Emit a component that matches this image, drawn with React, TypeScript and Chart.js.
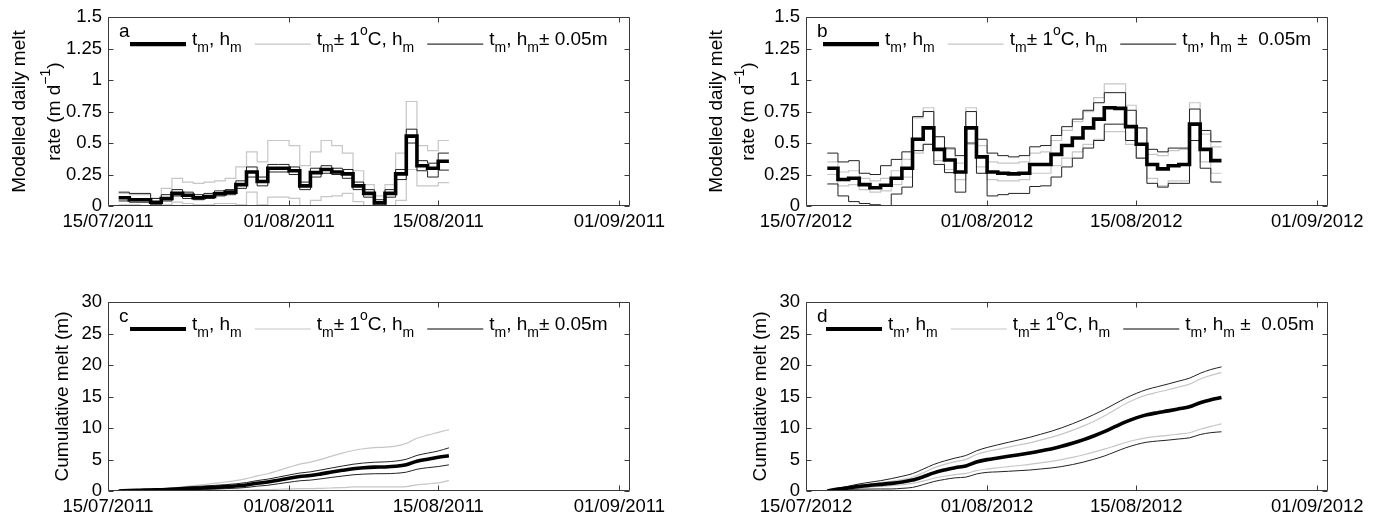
import React, { useEffect, useRef } from 'react';
import { Chart, registerables } from 'chart.js';

Chart.register(...registerables);

const FONT = '"Liberation Sans", Arial, Helvetica, sans-serif';

// x axis: days since 15/07
const xTickDays = [0, 17, 31, 48];
const xTickLabels2011 = ['15/07/2011', '01/08/2011', '15/08/2011', '01/09/2011'];
const xTickLabels2012 = ['15/07/2012', '01/08/2012', '15/08/2012', '01/09/2012'];

// ---- panel a: modelled daily melt rate 2011 (m d-1), one value per day starting 16/07 (day 1)
const rateStart2011 = 1;
const rate2011Main = [0.066, 0.05, 0.05, 0.03, 0.06, 0.10, 0.085, 0.066, 0.075, 0.097, 0.11, 0.17, 0.27, 0.195, 0.30, 0.30, 0.28, 0.16, 0.265, 0.29, 0.27, 0.255, 0.16, 0.10, 0.025, 0.10, 0.255, 0.555, 0.32, 0.30, 0.355];
const rate2011TempUp = [0.10, 0.09, 0.09, 0.06, 0.14, 0.22, 0.19, 0.18, 0.19, 0.20, 0.22, 0.31, 0.43, 0.35, 0.52, 0.52, 0.48, 0.32, 0.43, 0.52, 0.48, 0.42, 0.28, 0.17, 0.08, 0.17, 0.42, 0.83, 0.48, 0.44, 0.52];
const rate2011TempDown = [0.01, 0.01, 0.0, 0.0, 0.01, 0.03, 0.02, 0.01, 0.01, 0.02, 0.02, 0.01, 0.11, 0.01, 0.07, 0.07, 0.06, 0.0, 0.045, 0.075, 0.08, 0.10, 0.035, 0.0, 0.0, 0.0, 0.045, 0.29, 0.16, 0.16, 0.185];
const rate2011ThickUp = [0.11, 0.10, 0.10, 0.06, 0.09, 0.13, 0.11, 0.09, 0.10, 0.12, 0.13, 0.20, 0.31, 0.23, 0.33, 0.33, 0.31, 0.19, 0.30, 0.32, 0.30, 0.29, 0.19, 0.13, 0.05, 0.13, 0.29, 0.61, 0.36, 0.34, 0.42];
const rate2011ThickDown = [0.04, 0.03, 0.03, 0.01, 0.04, 0.08, 0.06, 0.05, 0.06, 0.08, 0.09, 0.14, 0.23, 0.16, 0.27, 0.27, 0.25, 0.13, 0.23, 0.26, 0.25, 0.22, 0.13, 0.07, 0.005, 0.07, 0.21, 0.50, 0.28, 0.23, 0.285];

// ---- panel b: modelled daily melt rate 2012, starting 17/07 (day 2)
const rateStart2012 = 2;
const rate2012Main = [0.30, 0.21, 0.22, 0.17, 0.145, 0.165, 0.22, 0.30, 0.53, 0.62, 0.45, 0.365, 0.27, 0.62, 0.39, 0.27, 0.26, 0.255, 0.26, 0.33, 0.33, 0.41, 0.48, 0.54, 0.62, 0.69, 0.78, 0.775, 0.63, 0.49, 0.33, 0.295, 0.32, 0.33, 0.65, 0.45, 0.36];
const rate2012TempUp = [0.35, 0.27, 0.28, 0.22, 0.20, 0.22, 0.28, 0.37, 0.70, 0.78, 0.55, 0.45, 0.34, 0.78, 0.48, 0.35, 0.34, 0.34, 0.35, 0.42, 0.43, 0.52, 0.60, 0.67, 0.75, 0.86, 0.97, 0.97, 0.80, 0.62, 0.41, 0.40, 0.44, 0.45, 0.82, 0.57, 0.47];
const rate2012TempDown = [0.25, 0.16, 0.17, 0.13, 0.11, 0.12, 0.17, 0.23, 0.42, 0.49, 0.36, 0.29, 0.21, 0.49, 0.31, 0.21, 0.20, 0.20, 0.21, 0.26, 0.26, 0.32, 0.38, 0.43, 0.49, 0.53, 0.59, 0.59, 0.49, 0.38, 0.22, 0.16, 0.20, 0.20, 0.52, 0.35, 0.26];
const rate2012ThickUp = [0.42, 0.35, 0.36, 0.26, 0.25, 0.32, 0.37, 0.43, 0.71, 0.75, 0.55, 0.46, 0.40, 0.75, 0.53, 0.42, 0.40, 0.39, 0.40, 0.47, 0.48, 0.56, 0.63, 0.69, 0.76, 0.82, 0.90, 0.90, 0.76, 0.62, 0.45, 0.43, 0.46, 0.46, 0.77, 0.60, 0.51];
const rate2012ThickDown = [0.175, 0.08, 0.035, 0.02, 0.01, 0.0, 0.095, 0.15, 0.44, 0.49, 0.33, 0.265, 0.11, 0.50, 0.26, 0.08, 0.09, 0.10, 0.10, 0.155, 0.16, 0.23, 0.31, 0.38, 0.46, 0.52, 0.65, 0.65, 0.52, 0.38, 0.18, 0.15, 0.18, 0.18, 0.52, 0.30, 0.19];

// ---- panel c: cumulative melt 2011 (m), one value per day from day 1
const cumStart2011 = 1;
const cum2011Main = [0, 0.07, 0.12, 0.17, 0.20, 0.26, 0.36, 0.44, 0.51, 0.58, 0.68, 0.79, 0.96, 1.23, 1.42, 1.72, 2.02, 2.30, 2.46, 2.72, 3.01, 3.28, 3.53, 3.69, 3.79, 3.82, 3.92, 4.17, 4.73, 5.05, 5.35, 5.60];
const cum2011TempUp = [0, 0.09, 0.17, 0.25, 0.30, 0.44, 0.66, 0.85, 1.03, 1.22, 1.43, 1.65, 1.96, 2.39, 2.74, 3.26, 3.78, 4.26, 4.58, 5.01, 5.53, 6.01, 6.43, 6.71, 6.88, 6.96, 7.13, 7.55, 8.38, 8.86, 9.30, 9.75];
const cum2011TempDown = [0, 0.01, 0.02, 0.02, 0.02, 0.03, 0.05, 0.07, 0.08, 0.09, 0.11, 0.13, 0.14, 0.22, 0.23, 0.28, 0.33, 0.38, 0.38, 0.42, 0.48, 0.55, 0.64, 0.67, 0.67, 0.67, 0.67, 0.71, 0.98, 1.14, 1.30, 1.65];
const cum2011ThickUp = [0, 0.11, 0.21, 0.31, 0.37, 0.46, 0.59, 0.70, 0.79, 0.89, 1.01, 1.14, 1.34, 1.65, 1.88, 2.21, 2.54, 2.85, 3.04, 3.34, 3.66, 3.96, 4.25, 4.44, 4.57, 4.62, 4.75, 5.04, 5.65, 6.01, 6.35, 6.85];
const cum2011ThickDown = [0, 0.03, 0.05, 0.07, 0.08, 0.11, 0.17, 0.22, 0.26, 0.31, 0.37, 0.44, 0.56, 0.77, 0.91, 1.15, 1.39, 1.62, 1.73, 1.93, 2.16, 2.37, 2.57, 2.68, 2.74, 2.75, 2.81, 2.99, 3.45, 3.70, 3.88, 4.15];

// ---- panel d: cumulative melt 2012 (m), one value per day from day 2
const cumStart2012 = 2;
const cum2012Main = [0, 0.30, 0.51, 0.73, 0.90, 1.05, 1.21, 1.43, 1.73, 2.26, 2.88, 3.33, 3.70, 3.97, 4.59, 4.98, 5.25, 5.51, 5.76, 6.02, 6.35, 6.68, 7.09, 7.57, 8.11, 8.73, 9.42, 10.20, 10.98, 11.61, 12.10, 12.43, 12.72, 13.04, 13.37, 14.02, 14.47, 14.83];
const cum2012TempUp = [0, 0.35, 0.62, 0.90, 1.12, 1.32, 1.54, 1.82, 2.19, 2.89, 3.67, 4.22, 4.67, 5.01, 5.79, 6.27, 6.62, 6.96, 7.30, 7.65, 8.07, 8.50, 9.02, 9.62, 10.29, 11.04, 11.90, 12.87, 13.84, 14.64, 15.26, 15.67, 16.07, 16.51, 16.96, 17.78, 18.35, 18.82];
const cum2012TempDown = [0, 0.22, 0.36, 0.51, 0.63, 0.73, 0.84, 0.99, 1.20, 1.58, 2.02, 2.34, 2.60, 2.79, 3.23, 3.50, 3.69, 3.87, 4.05, 4.24, 4.47, 4.70, 4.99, 5.33, 5.72, 6.16, 6.64, 7.17, 7.70, 8.14, 8.48, 8.68, 8.84, 9.04, 9.24, 9.80, 10.25, 10.65];
const cum2012ThickUp = [0, 0.42, 0.77, 1.13, 1.39, 1.64, 1.96, 2.33, 2.76, 3.47, 4.22, 4.77, 5.23, 5.63, 6.38, 6.91, 7.33, 7.73, 8.12, 8.52, 8.99, 9.47, 10.03, 10.66, 11.35, 12.11, 12.93, 13.83, 14.73, 15.49, 16.11, 16.56, 16.99, 17.45, 17.91, 18.68, 19.28, 19.70];
const cum2012ThickDown = [0, 0.18, 0.26, 0.29, 0.31, 0.32, 0.32, 0.42, 0.57, 1.01, 1.50, 1.83, 2.09, 2.20, 2.70, 2.96, 3.04, 3.13, 3.23, 3.33, 3.49, 3.65, 3.88, 4.19, 4.57, 5.03, 5.55, 6.20, 6.85, 7.37, 7.75, 7.93, 8.08, 8.26, 8.44, 8.96, 9.26, 9.40];

// ---- text
type Seg = { t: string; sub?: boolean; sup?: boolean };
const legendMain: Seg[] = [{ t: 't' }, { t: 'm', sub: true }, { t: ', h' }, { t: 'm', sub: true }];
const legendTemp: Seg[] = [{ t: 't' }, { t: 'm', sub: true }, { t: '± 1' }, { t: 'o', sup: true }, { t: 'C, h' }, { t: 'm', sub: true }];
const legendThick2011: Seg[] = [{ t: 't' }, { t: 'm', sub: true }, { t: ', h' }, { t: 'm', sub: true }, { t: '± 0.05m' }];
const legendThick2012: Seg[] = [{ t: 't' }, { t: 'm', sub: true }, { t: ', h' }, { t: 'm', sub: true }, { t: ' ±  0.05m' }];
const yTitleRate: Seg[][] = [[{ t: 'Modelled daily melt' }], [{ t: 'rate (m d' }, { t: '−1', sup: true }, { t: ')' }]];
const yTitleCum: Seg[][] = [[{ t: 'Cumulative melt (m)' }]];

const GREY = '#c6c6c6';
const THIN = '#222222';

function drawRich(ctx: CanvasRenderingContext2D, x: number, y: number, segs: Seg[], size: number, measureOnly = false): number {
  let cx = x;
  for (const s of segs) {
    const small = s.sub || s.sup;
    ctx.font = `${small ? Math.round(size * 0.72) : size}px ${FONT}`;
    const dy = s.sub ? 7 : s.sup ? -10 : 0;
    if (!measureOnly) ctx.fillText(s.t, cx, y + dy);
    cx += ctx.measureText(s.t).width;
  }
  return cx - x;
}

type PanelCfg = {
  letter: string;
  legendStart: number;
  thickLegend: Seg[];
  yTitle: Seg[][];
  yTitleOffsets: number[];
};

function makePanelPlugin(cfg: PanelCfg) {
  return {
    id: 'panelDecor',
    afterDraw(chart: any) {
      const { ctx, chartArea: ca, scales } = chart;
      const L = Math.round(ca.left) + 0.5;
      const R = Math.round(ca.right) - 0.5;
      const T = Math.round(ca.top) + 0.5;
      const B = Math.round(ca.bottom) - 0.5;
      ctx.save();
      ctx.strokeStyle = '#3a3a3a';
      ctx.lineWidth = 1;
      ctx.beginPath();
      ctx.rect(L, T, R - L, B - T);
      const tl = 5;
      for (const v of xTickDays) {
        const px = Math.round(scales.x.getPixelForValue(v)) + 0.5;
        ctx.moveTo(px, B); ctx.lineTo(px, B - tl);
        ctx.moveTo(px, T); ctx.lineTo(px, T + tl);
      }
      for (const t of scales.y.ticks) {
        const py = Math.round(scales.y.getPixelForValue(t.value)) + 0.5;
        ctx.moveTo(L, py); ctx.lineTo(L + tl, py);
        ctx.moveTo(R, py); ctx.lineTo(R - tl, py);
      }
      ctx.stroke();

      // legend
      ctx.fillStyle = '#000';
      ctx.textBaseline = 'alphabetic';
      ctx.textAlign = 'left';
      ctx.font = `19px ${FONT}`;
      ctx.fillText(cfg.letter, ca.left + 11, ca.top + 20);
      const lineY = ca.top + 27;
      const textY = ca.top + 28;
      const entries: { segs: Seg[]; color: string; width: number }[] = [
        { segs: legendMain, color: '#000', width: 4.2 },
        { segs: legendTemp, color: GREY, width: 1.2 },
        { segs: cfg.thickLegend, color: '#000', width: 1 },
      ];
      let x = ca.left + cfg.legendStart;
      for (const e of entries) {
        ctx.strokeStyle = e.color;
        ctx.lineWidth = e.width;
        ctx.beginPath();
        ctx.moveTo(x, lineY);
        ctx.lineTo(x + 56, lineY);
        ctx.stroke();
        x += 62;
        const w = drawRich(ctx, x, textY, e.segs, 19);
        x += w + 13;
      }

      // y title (rotated)
      const cy = (ca.top + ca.bottom) / 2;
      cfg.yTitle.forEach((line, i) => {
        ctx.save();
        ctx.translate(ca.left - cfg.yTitleOffsets[i], cy);
        ctx.rotate(-Math.PI / 2);
        const w = drawRich(ctx, 0, 0, line, 19, true);
        drawRich(ctx, -w / 2, 0, line, 19);
        ctx.restore();
      });
      ctx.restore();
    },
  };
}

function series(start: number, values: number[], stepped: boolean) {
  const pts = values.map((v, i) => ({ x: start + i, y: v }));
  if (stepped) pts.push({ x: start + values.length, y: values[values.length - 1] });
  return pts;
}

type ChartSpec = {
  left: number; top: number; width: number; height: number;
  area: { left: number; top: number; right: number; bottom: number };
  yMax: number; yStep: number; xLabels: string[];
  stepped: boolean; start: number;
  main: number[]; tempUp: number[]; tempDown: number[]; thickUp: number[]; thickDown: number[];
  panel: PanelCfg;
};

function PanelChart({ spec }: { spec: ChartSpec }) {
  const ref = useRef<HTMLCanvasElement>(null);
  useEffect(() => {
    if (!ref.current) return;
    const s = spec;
    const mk = (vals: number[], color: string, width: number) => ({
      data: series(s.start, vals, s.stepped),
      borderColor: color,
      borderWidth: width,
      pointRadius: 0,
      fill: false,
      stepped: s.stepped ? ('before' as const) : false,
      cubicInterpolationMode: s.stepped ? 'default' : ('monotone' as any),
      borderJoinStyle: 'miter' as const,
      borderCapStyle: 'butt' as const,
    });
    const chart = new Chart(ref.current, {
      type: 'line',
      data: {
        datasets: [
          mk(s.main, '#000', 3.6),
          mk(s.thickUp, THIN, 1),
          mk(s.thickDown, THIN, 1),
          mk(s.tempUp, GREY, 1.2),
          mk(s.tempDown, GREY, 1.2),
        ] as any,
      },
      options: {
        animation: false,
        responsive: false,
        devicePixelRatio: 1,
        parsing: false as any,
        layout: { padding: { top: s.area.top, right: s.width - s.area.right, left: 0, bottom: 0 } },
        plugins: { legend: { display: false }, tooltip: { enabled: false } },
        scales: {
          x: {
            type: 'linear', min: 0, max: 49,
            afterFit: (sc: any) => { sc.height = s.height - s.area.bottom; },
            afterBuildTicks: (sc: any) => { sc.ticks = xTickDays.map((v) => ({ value: v })); },
            ticks: {
              autoSkip: false, maxRotation: 0, minRotation: 0, padding: 5, color: '#000',
              font: { family: FONT, size: 18.5 },
              callback: (_v: any, i: number) => s.xLabels[i],
            },
            grid: { display: false, drawTicks: false }, border: { display: false },
          },
          y: {
            min: 0, max: s.yMax,
            afterFit: (sc: any) => { sc.width = s.area.left; },
            ticks: {
              stepSize: s.yStep, padding: 6, color: '#000', font: { family: FONT, size: 18.5 },
              callback: (v: any) => String(Number(Number(v).toFixed(2))),
            },
            grid: { display: false, drawTicks: false }, border: { display: false },
          },
        },
      } as any,
      plugins: [makePanelPlugin(s.panel)],
    });
    return () => chart.destroy();
  }, [spec]);
  return (
    <canvas
      ref={ref}
      width={spec.width}
      height={spec.height}
      style={{ position: 'absolute', left: spec.left, top: spec.top, width: spec.width, height: spec.height, display: 'block' }}
    />
  );
}

const specs: ChartSpec[] = [
  {
    left: 0, top: 0, width: 691, height: 259,
    area: { left: 108, top: 17, right: 630, bottom: 206 },
    yMax: 1.5, yStep: 0.25, xLabels: xTickLabels2011, stepped: true, start: rateStart2011,
    main: rate2011Main, tempUp: rate2011TempUp, tempDown: rate2011TempDown, thickUp: rate2011ThickUp, thickDown: rate2011ThickDown,
    panel: { letter: 'a', legendStart: 22, thickLegend: legendThick2011, yTitle: yTitleRate, yTitleOffsets: [83, 48] },
  },
  {
    left: 691, top: 0, width: 691, height: 259,
    area: { left: 115, top: 17, right: 637, bottom: 206 },
    yMax: 1.5, yStep: 0.25, xLabels: xTickLabels2012, stepped: true, start: rateStart2012,
    main: rate2012Main, tempUp: rate2012TempUp, tempDown: rate2012TempDown, thickUp: rate2012ThickUp, thickDown: rate2012ThickDown,
    panel: { letter: 'b', legendStart: 17, thickLegend: legendThick2012, yTitle: yTitleRate, yTitleOffsets: [84, 52] },
  },
  {
    left: 0, top: 259, width: 691, height: 260,
    area: { left: 108, top: 43, right: 630, bottom: 232 },
    yMax: 30, yStep: 5, xLabels: xTickLabels2011, stepped: false, start: cumStart2011,
    main: cum2011Main, tempUp: cum2011TempUp, tempDown: cum2011TempDown, thickUp: cum2011ThickUp, thickDown: cum2011ThickDown,
    panel: { letter: 'c', legendStart: 22, thickLegend: legendThick2011, yTitle: yTitleCum, yTitleOffsets: [40] },
  },
  {
    left: 691, top: 259, width: 691, height: 260,
    area: { left: 115, top: 43, right: 637, bottom: 232 },
    yMax: 30, yStep: 5, xLabels: xTickLabels2012, stepped: false, start: cumStart2012,
    main: cum2012Main, tempUp: cum2012TempUp, tempDown: cum2012TempDown, thickUp: cum2012ThickUp, thickDown: cum2012ThickDown,
    panel: { letter: 'd', legendStart: 20, thickLegend: legendThick2012, yTitle: yTitleCum, yTitleOffsets: [40] },
  },
];

export default function App() {
  return (
    <div style={{ position: 'absolute', left: 0, top: 0, width: 1382, height: 519, background: '#fff', overflow: 'hidden' }}>
      {specs.map((s, i) => (
        <PanelChart key={i} spec={s} />
      ))}
    </div>
  );
}
